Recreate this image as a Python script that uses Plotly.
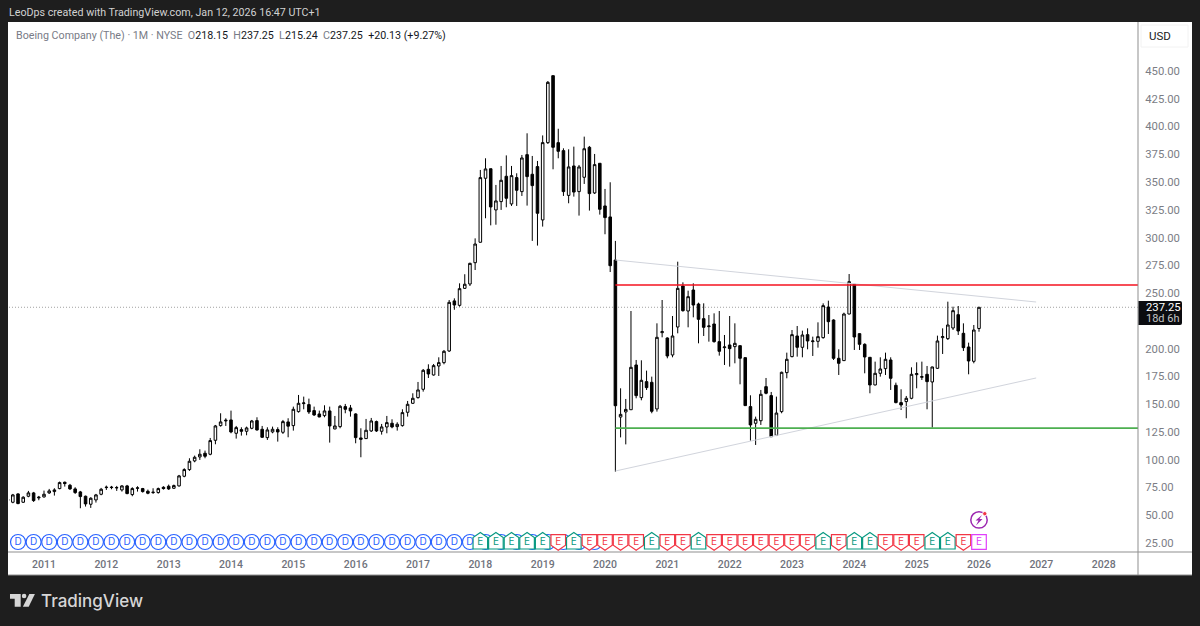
import plotly.graph_objects as go

# ---- values; monthly candles from Jun 2010 to Jan 2026 ----
months = list(range(-7, 181))  # months counted from Jan 2011

opens = [63.2,61.7,69.2,61.7,67.1,70.1,65.6,
 66.5,70.1,71.3,74,79.7,77,73.7,71,67.1,59.9,63.8,68.9,
 74.9,74.9,74.6,72.8,76.4,68.6,74.3,74,71.6,70.4,70.4,75.2,
 76.1,74.3,76.4,85.1,91.1,98.9,102.5,105.8,104.9,117.5,130.7,134.9,
 135.8,123.8,127.1,125.6,128.3,135.2,127.4,119.9,125,127.1,124.7,134,
 130.7,143.3,150.5,149.6,144.2,141.2,139.7,143.9,127.7,129.8,147.8,146.6,
 141.2,119.6,119,125.9,134.3,125.6,129.5,132.8,129.8,130.7,142.7,150.8,
 155.9,163.4,181.4,176.3,184.4,187.4,197.9,243,239,254.3,258.2,277.4,
 295.8,353.4,362,324.9,332.4,355.2,330.3,354,341.4,374.7,357,363.9,
 315.9,385.5,445.8,385.5,378.3,338,364.5,341.4,354.3,381.3,340.2,366.9,
 328.5,318.6,279.8,138.4,143,145,185.3,155.9,170.3,169.7,145.7,214.4,
 209.6,194.3,219.5,256.4,233.9,252.8,240.2,227,219.8,222.2,206.3,200.9,
 203.3,201.8,202.7,191.9,147.8,132.8,135.1,165.8,157.7,122,143.3,178.4,
 192.8,211.4,201.2,212.6,206.3,206.6,209.9,237.5,225.8,191.3,189.2,231.2,
 257.9,213.5,203.9,192.2,167.3,177.8,182,189.8,167,151.4,152.3,155.3,
 176.6,174.2,176.9,170,182.3,209.9,209,218.6,230.6,213.8,201.5,188.6,
 218.15]

highs = [65,69.2,69.8,67.1,71.9,71,67.4,
 72.2,73.7,74.3,80.3,80.3,78.2,75.2,71.9,67.7,66.2,69.2,74.6,
 76.7,76.4,76.4,77,77.3,75.2,76.1,74.6,73.1,74.3,74.9,76.1,
 77.6,77.6,86.3,92.3,101.3,103.7,109.4,108.2,119.6,131.3,141.8,137.3,
 144.2,130.4,129.2,129.8,135.8,138.2,130.4,129.2,129.8,129.2,135.8,137.3,
 147.8,158.3,156.8,155,147.8,144.2,149,147.8,139.4,149.3,150.2,149.3,
 141.8,128.3,136.7,137.6,135.2,132.2,139.4,136.4,133.7,145.4,152.9,159.8,
 170,181.7,185.9,186.2,192.2,198.8,243.8,245.3,258.8,267,277.4,299.3,
 360.9,371.4,362,347.4,364.5,374,364.5,357.9,374.4,393.9,373.5,369,
 392,441,445.8,398,380.4,379.5,381.9,365.4,390.9,382.5,375.3,366.9,
 343.8,349.8,297,164.3,154.7,233.9,189.8,189.5,180.2,174.8,222.8,243.8,
 210.2,229.4,278.3,259.7,252.2,258.8,241.4,240.8,230.3,231.8,233.9,212.3,
 229.4,222.8,202.7,191.9,158,138.8,162.8,173.6,161,156.8,179.3,196.4,
 216.8,220.4,216.2,218.3,210.8,223.7,240.8,243.2,226.4,199.4,232.4,267.2,
 258.2,213.8,204.8,192.2,188.3,192.2,196.4,192.2,169.4,163.4,157.4,183.2,
 187.7,188.3,184.4,183.8,211.7,218.3,242.3,237.8,238.4,222.8,205.4,221.3,
 237.25]

lows = [62,60.8,59.9,61.1,66.2,62,63.5,
 65.9,69.2,67.7,73.4,75.8,72.8,69.2,56.3,57.8,56.6,61.4,68,
 72.8,73.4,71.9,71.3,68.9,67.1,71.3,70.4,68.9,69.2,69.5,73.1,
 72.8,73.7,75.8,84.2,89.9,97.7,99.8,101.3,104,113.9,129.8,130.4,
 123.8,119,121.7,122,127.4,126.2,119.6,117.8,123.8,116.3,123.2,120.2,
 126.2,142.4,145.4,141.2,139.4,138.2,138.2,115.4,127.4,128.3,141.8,138.8,
 114.8,102.2,118.7,125,125,122.6,123.8,128.3,126.2,129.8,138.8,150.2,
 155,161.3,173.6,175.7,175.4,185.9,197,235,237.8,253.7,256.4,270.8,
 295.5,317.4,311,311.6,324.9,327.3,328.5,328.5,337.5,328.8,297,292.8,
 309.9,384.3,361.5,371.4,337.5,330.9,336.9,319.8,348.3,324.3,339.3,320.7,
 303,269,89.2,120.1,113.8,144.8,155.3,153.5,162.8,141.8,143.3,210.2,
 191.3,192.2,213.8,233.3,219.2,228.2,204.8,211.4,206.3,205.4,193.7,185.3,
 183.8,186.8,167.9,148.4,117.1,113.3,131.3,158.9,120.7,121.3,141.8,173.3,
 192.2,192.8,192.2,199.4,193.4,200.9,209,213.2,189.8,176.3,188.9,230.9,
 198.8,198.8,177.8,159.8,167,174.8,176.3,162.8,150.8,144.8,137.3,154.4,
 164.3,171.8,145.4,128.9,181.7,195.2,207.8,216.8,212.3,197.9,176.9,186.8,
 215.24]

closes = [64.4,68.3,60.5,66.2,70.1,63.2,66.2,
 68.9,71.9,72.8,79.4,78.5,73.7,70.4,66.8,60.2,65.3,68.3,73.4,
 75.2,75.2,74.9,76.4,69.5,74,74.6,71.3,69.8,70.7,74,74,
 73.7,76.7,85.4,91.1,98.6,102.2,104.9,103.1,117.2,130.4,134,135.5,
 125,128.9,125.6,128.6,134.9,126.8,120.2,126.8,127.4,125,134.3,130.2,
 145.4,150.8,151.1,143,140.3,138.5,143.9,130.4,130.4,148.1,145.4,143.9,
 119.9,118.4,126.5,134.9,125.9,129.5,133.4,129.5,131.9,142.4,149.9,155.3,
 162.8,180.5,177.2,184.7,187.4,197.6,241.7,239.3,254,258,276.8,294.2,
 354,361.8,327.6,333,351.6,335.4,355.8,342.6,371.7,354.9,346.8,321.9,
 385.5,439.8,381.3,377.7,341.4,363.6,341,363.6,380,339.6,365.7,325.5,
 318,274.7,148.6,140.8,145.3,183.2,157.7,171.5,164.9,143.6,210.2,215.3,
 193.4,211.4,254.3,234.2,246.8,239.3,226.4,219.2,220.4,206.3,197.6,201.5,
 200,204.8,191.3,148.7,131.3,136.4,158.9,159.8,120.7,142,178.7,190.4,
 212.6,201.2,212.3,206.9,206.9,210.8,238.7,224.3,191.3,186.8,231.2,260.3,
 210.5,203.9,192.5,167.3,177.8,181.7,190.4,173.3,151.4,149.3,155.3,176.9,
 177.5,174.8,170.3,183.5,206.9,210.8,221.3,234.2,215.9,200.9,188.9,216.8,
 237.25]

year_ticks = [0,12,24,36,48,60,72,84,96,108,120,132,144,156,168,180,192,204]
year_labels = ["2011","2012","2013","2014","2015","2016","2017","2018","2019",
               "2020","2021","2022","2023","2024","2025","2026","2027","2028"]
price_ticks = [25,50,75,100,125,150,175,200,250,275,300,325,350,375,400,425,450]

last_price = 237.25
resistance = 257.3
support = 128.5
upper_line_x = [110, 191]; upper_line_y = [279.8, 242.0]
lower_line_x = [110, 191]; lower_line_y = [89.8, 173.6]
level_x = [110, 212]

dividend_months = [-5,-2,1,4,7,10,13,16,19,22,25,28,31,34,37,40,43,46,49,52,55,58,61,64,67,70,73,76,79,82,
                   85,88,91,94,97,100,103,106]
earnings_months = [84,87,90,93,96,99,102,105,108,111,114,117,120,123,126,129,132,135,138,141,144,147,150,
                   153,156,159,162,165,168,171,174,177,180]
earnings_kind = list("gggggrgrrrrgrrgrrrrrrrgrggrrrggrp")
marker_price = 25.9
flash_price = 45.8

# ---- helpers ----
W, H = 1200, 626
def px(x): return x / W
def py(y): return 1 - y / H
BG = "#1e1e1e"
GREY = "#787b86"
LINE = "#8f8f8f"
TICK = "#7b7d85"
FONT = "Roboto"
EC = {"g": "#089981", "r": "#f23645", "p": "#e040fb"}
BLUE = "#2962ff"

fig = go.Figure()
fig.add_trace(go.Candlestick(
    x=months, open=opens, high=highs, low=lows, close=closes,
    increasing=dict(line=dict(color="#000000", width=1), fillcolor="#ffffff"),
    decreasing=dict(line=dict(color="#000000", width=1), fillcolor="#000000"),
    hoverinfo="skip", showlegend=False))

for xs, ys in ((upper_line_x, upper_line_y), (lower_line_x, lower_line_y)):
    fig.add_trace(go.Scatter(x=xs, y=ys, mode="lines", line=dict(color="#d1d4dc", width=1),
                             hoverinfo="skip", showlegend=False))
fig.add_trace(go.Scatter(x=level_x, y=[resistance]*2, mode="lines", line=dict(color="#f5121f", width=1.5),
                         hoverinfo="skip", showlegend=False))
fig.add_trace(go.Scatter(x=level_x, y=[support]*2, mode="lines", line=dict(color="#4caf50", width=1.8),
                         hoverinfo="skip", showlegend=False))

# letters on the event badges
shown_dividends = [m for m in dividend_months if m < 84]
fig.add_trace(go.Scatter(x=shown_dividends, y=[marker_price]*len(shown_dividends),
                         mode="text", text=["D"]*len(shown_dividends),
                         textfont=dict(family="Inter", size=10, color=BLUE), hoverinfo="skip", showlegend=False))
fig.add_trace(go.Scatter(x=earnings_months, y=[marker_price]*len(earnings_months), mode="text",
                         text=["E"]*len(earnings_months),
                         textfont=dict(family="Inter", size=10, color=[EC[k] for k in earnings_kind]),
                         hoverinfo="skip", showlegend=False))

shapes = []
# white chart card
shapes.append(dict(type="rect", xref="paper", yref="paper", x0=px(8), x1=px(1192), y0=py(22), y1=py(575),
                   fillcolor="#ffffff", line=dict(width=0), layer="below"))
# last price dotted
shapes.append(dict(type="line", xref="paper", yref="y", x0=px(9), x1=px(1138), y0=last_price, y1=last_price,
                   line=dict(color="#8a8a8a", width=0.8, dash="1px,2px"), layer="below"))
# badges
for m in dividend_months:
    shapes.append(dict(type="circle", xref="x", yref="y", xsizemode="pixel", ysizemode="pixel",
                       xanchor=m, yanchor=marker_price, x0=-7.5, x1=7.5, y0=-7.5, y1=7.5,
                       fillcolor="#ffffff", line=dict(color=BLUE, width=1.2), layer="below"))
HOUSE = {"g": "M -7.3 -7 L 7.3 -7 L 7.3 4.5 L 0 9.5 L -7.3 4.5 Z",
         "r": "M -7.3 7.3 L 7.3 7.3 L 7.3 -3.2 L 0 -8.2 L -7.3 -3.2 Z",
         "p": "M -7.3 -7.3 L 7.3 -7.3 L 7.3 7.3 L -7.3 7.3 Z"}
for m, k in zip(earnings_months, earnings_kind):
    shapes.append(dict(type="path", xref="x", yref="y", xsizemode="pixel", ysizemode="pixel",
                       xanchor=m, yanchor=marker_price, path=HOUSE[k],
                       fillcolor="#ffffff", line=dict(color=EC[k], width=1.2), layer="below"))
# flash badge
last_m = months[-1]
shapes.append(dict(type="circle", xref="x", yref="y", xsizemode="pixel", ysizemode="pixel",
                   xanchor=last_m, yanchor=flash_price, x0=-8.2, x1=8.2, y0=-8.2, y1=8.2,
                   fillcolor="#ffffff", line=dict(color="#9c27b0", width=1.5), layer="below"))
shapes.append(dict(type="path", xref="x", yref="y", xsizemode="pixel", ysizemode="pixel",
                   xanchor=last_m, yanchor=flash_price,
                   path="M 3 5 L -3.5 -0.5 L -0.5 -0.5 L -3 -5.5 L 3.5 0.8 L 0.5 0.8 Z",
                   fillcolor="#9c27b0", line=dict(width=0), layer="above"))
shapes.append(dict(type="circle", xref="x", yref="y", xsizemode="pixel", ysizemode="pixel",
                   xanchor=last_m, yanchor=flash_price, x0=3.6, x1=8.0, y0=4.0, y1=8.4,
                   fillcolor="#f23645", line=dict(color="#ffffff", width=1), layer="above"))
# frame lines
for x0, y0, x1, y1 in [(1138, 22, 1138, 575), (8, 552, 1192, 552), (8, 575, 1192, 575)]:
    shapes.append(dict(type="line", xref="paper", yref="paper", x0=px(x0), x1=px(x1), y0=py(y0), y1=py(y1),
                       line=dict(color=LINE, width=1), layer="above"))
# USD box
shapes.append(dict(type="rect", xref="paper", yref="paper", x0=px(1141), x1=px(1188), y0=py(25), y1=py(47),
                   fillcolor="#ffffff", line=dict(color="#f2f2f2", width=1), layer="above"))
# price tag
def pp(x, y): return f"{px(x):.5f} {py(y):.5f}"
shapes.append(dict(type="path", xref="paper", yref="paper",
                   path=f"M {pp(1138.5,301)} L {pp(1180,301)} Q {pp(1182,301)} {pp(1182,303)} "
                        f"L {pp(1182,323)} Q {pp(1182,325)} {pp(1180,325)} L {pp(1138.5,325)} Z",
                   fillcolor="#0b0c10", line=dict(width=0), layer="above"))
# logo
LOGO = "#d6d6d6"
def poly(points):
    return "M " + " L ".join(pp(x, y) for x, y in points) + " Z"
for pts in ([(10,594),(20.7,594),(20.7,606.7),(14.7,606.7),(14.7,598.7),(10,598.7)],
            [(29.3,594),(34.9,594),(28.7,606.7),(22.9,606.7)]):
    shapes.append(dict(type="path", xref="paper", yref="paper", path=poly(pts),
                       fillcolor=LOGO, line=dict(width=0), layer="above"))
shapes.append(dict(type="circle", xref="paper", yref="paper", x0=px(21.8), x1=px(26.4), y0=py(598.3), y1=py(593.7),
                   fillcolor=LOGO, line=dict(width=0), layer="above"))

def note(x, y, text, size=10.5, color="#000000", weight=None, family=FONT):
    return dict(xref="paper", yref="paper", x=px(x), y=py(y), text=text, showarrow=False,
                xanchor="left", yanchor="middle", borderpad=0, borderwidth=0,
                font=dict(family=family, size=size, color=color, weight=weight))

def g(t): return f'<span style="color:{GREY}">{t}</span>'
header = (g("Boeing Company (The) · 1M · NYSE") + "&nbsp;&nbsp;" +
          g("O") + "218.15&nbsp;&nbsp;" + g("H") + "237.25&nbsp;&nbsp;" +
          g("L") + "215.24&nbsp;&nbsp;" + g("C") + "237.25&nbsp;&nbsp;+20.13 (+9.27%)")
annotations = [
    note(8.5, 13, "LeoDps created with TradingView.com, Jan 12, 2026 16:47 UTC+1", size=10.7, color="#d2d2d2"),
    note(15.5, 36, header, size=10.7, color="#131722"),
    note(1148.5, 36.5, "USD", size=11.5, color="#1a1a1a"),
    note(1146, 307.5, "237.25", size=11.3, color="#ffffff"),
    note(1146, 318.5, "18d 6h", size=11, color="#c4c4c4"),
    note(40.5, 600.5, "TradingView", size=17, color=LOGO, weight=500, family="Inter"),
]

px_per_month = (979 - 44) / 180
x_left = (9 - 44) / px_per_month
x_right = (1138 - 44) / px_per_month
px_per_usd = (543 - 71) / 425
y_top = 25 + (543 - 22) / px_per_usd
y_bot = 25 + (543 - 552) / px_per_usd

fig.update_layout(
    width=W, height=H, autosize=False,
    margin=dict(l=0, r=0, t=0, b=0, pad=0),
    paper_bgcolor=BG, plot_bgcolor="#ffffff",
    showlegend=False, dragmode=False, hovermode=False,
    shapes=shapes, annotations=annotations,
    font=dict(family=FONT),
    xaxis=dict(domain=[px(9), px(1138)], range=[x_left, x_right], type="linear",
               rangeslider=dict(visible=False), showgrid=False, zeroline=False, showline=False,
               tickmode="array", tickvals=year_ticks, ticktext=year_labels,
               ticks="outside", ticklen=2, tickcolor="rgba(0,0,0,0)", tickangle=0,
               tickfont=dict(family=FONT, size=10.5, color="#6f727c", weight=500)),
    yaxis=dict(domain=[py(552), py(22)], range=[y_bot, y_top], side="right", type="linear",
               showgrid=False, zeroline=False, showline=False,
               tickmode="array", tickvals=price_ticks, tickformat=".2f",
               ticks="outside", ticklen=4, tickcolor="rgba(0,0,0,0)",
               tickfont=dict(family=FONT, size=11.3, color=TICK)),
)

fig.write_html("out.html", config=dict(displayModeBar=False, staticPlot=True),
               post_script="document.body.style.margin='0';document.body.style.overflow='hidden';")
